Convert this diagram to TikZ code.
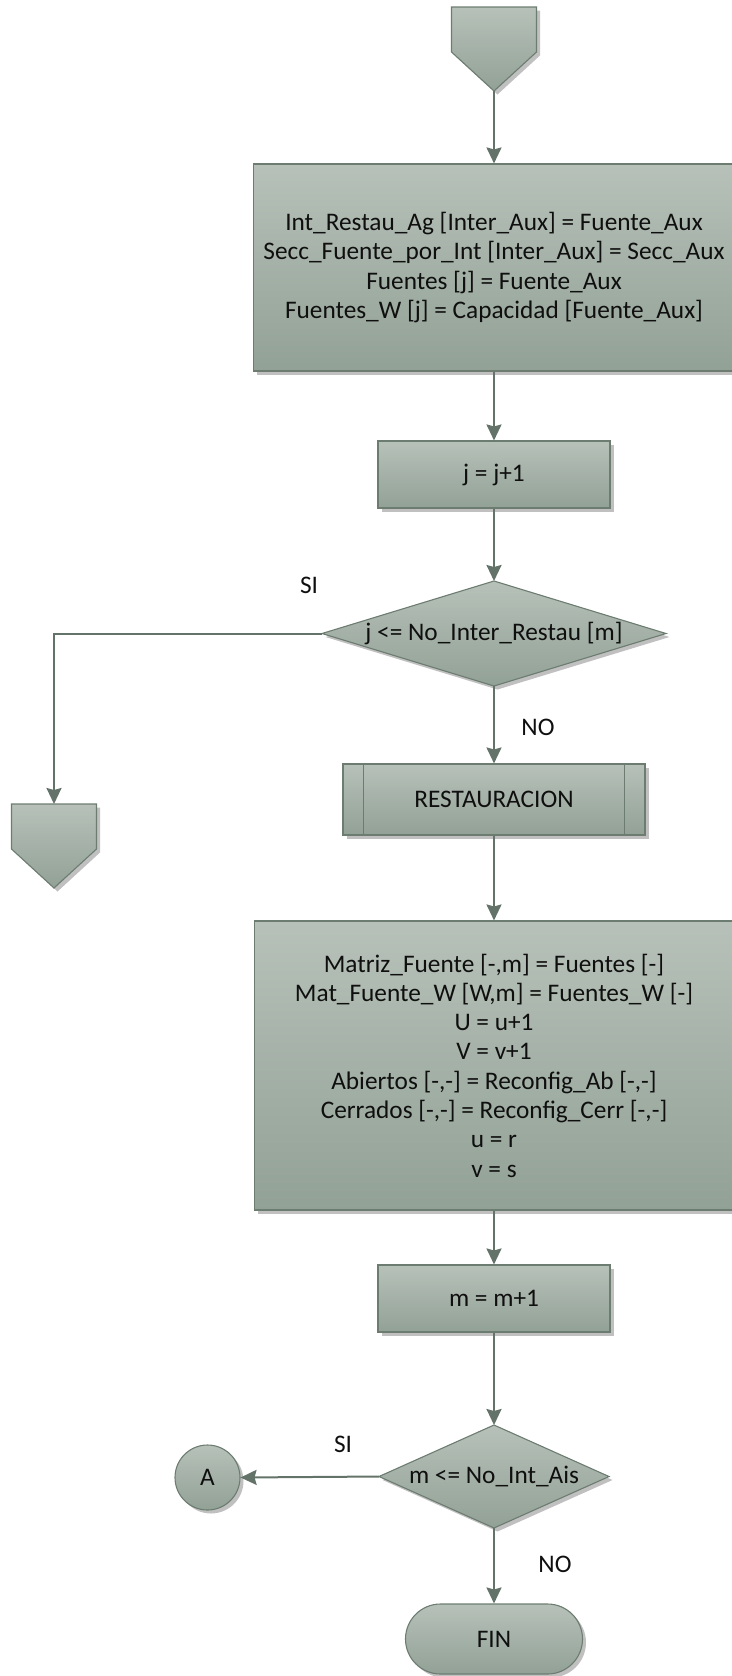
\documentclass[tikz,border=0pt]{standalone}
\usepackage{fontspec}
\setmainfont{Carlito}
\usetikzlibrary{shapes.misc,shadows,arrows.meta}
\pgfdeclarelayer{background}
\pgfsetlayers{background,main}

\definecolor{fillTop}{RGB}{183,193,185}
\definecolor{fillBot}{RGB}{146,161,150}
\definecolor{edgeC}{RGB}{108,124,113}
\definecolor{wireC}{RGB}{100,115,105}
\definecolor{shadeC}{RGB}{192,192,192}
\definecolor{inkC}{RGB}{15,15,15}

\newcommand\flowfont{\fontsize{25.3}{29.3}\selectfont}

% off-page connector outline built from the anchors of an invisible node
% #1 node, #2 #3 shift in picture units
\newcommand\offpagepath[3]{([shift={(#2,#3)}]#1.north west) -- ([shift={(#2,#3)}]#1.north east) -- ([shift={(#2,#3+45)}]#1.north east) -- ([shift={(#2,#3)}]#1.south) -- ([shift={(#2,#3+45)}]#1.north west) -- cycle}
% decision outline through the four side anchors of an invisible node
\newcommand\decisionpath[3]{([shift={(#2,#3)}]#1.north) -- ([shift={(#2,#3)}]#1.east) -- ([shift={(#2,#3)}]#1.south) -- ([shift={(#2,#3)}]#1.west) -- cycle}

\tikzset{
  flow/.style={draw=edgeC, line width=1.1pt, top color=fillTop, bottom color=fillBot,
    text=inkC, font=\flowfont, align=center, inner sep=0pt,
    drop shadow={shadow xshift=3.5pt, shadow yshift=-3.5pt, fill=shadeC, opacity=1}},
  procbox/.style={flow, rectangle},
  ghost/.style={inner sep=0pt, outer sep=0pt, draw=none, text=inkC, font=\flowfont},
  lbl/.style={font=\flowfont, text=inkC, inner sep=0pt},
  conn/.style={draw=wireC, line width=2pt, -{Stealth[length=16pt,width=15pt,inset=2pt]}},
  offshape/.style={draw=edgeC, line width=1.1pt, top color=fillTop, bottom color=fillBot},
}

\begin{document}
\begin{tikzpicture}[x=1pt,y=-1pt]
\useasboundingbox (0,0) rectangle (731,1676);

% nodes
\node[ghost, minimum width=85pt, minimum height=84pt] (top) at (494,49) {};

\node[procbox, minimum width=481pt, minimum height=207pt] (box1) at (494,267.5)
  {Int\_Restau\_Ag [Inter\_Aux] = Fuente\_Aux\\
   Secc\_Fuente\_por\_Int [Inter\_Aux] = Secc\_Aux\\
   Fuentes [j] = Fuente\_Aux\\
   Fuentes\_W [j] = Capacidad [Fuente\_Aux]};

\node[procbox, minimum width=232pt, minimum height=67pt] (box2) at (494,474.5) {j = j+1};

\node[ghost, minimum width=344pt, minimum height=105pt] (d1) at (494,633.5)
  {j <= No\_Inter\_Restau [m]};

\node[ghost, minimum width=85pt, minimum height=84pt] (off2) at (54,846) {};

\node[procbox, minimum width=302pt, minimum height=71pt] (restau) at (494,799.5) {RESTAURACION};

\node[procbox, minimum width=479pt, minimum height=289pt] (box3) at (494,1065.5)
  {Matriz\_Fuente [-,m] = Fuentes [-]\\
   Mat\_Fuente\_W [W,m] = Fuentes\_W [-]\\
   U = u+1\\
   V = v+1\\
   Abiertos [-,-] = Reconfig\_Ab [-,-]\\
   Cerrados [-,-] = Reconfig\_Cerr [-,-]\\
   u = r\\
   v = s};

\node[procbox, minimum width=232pt, minimum height=67pt] (box4) at (494,1298.5) {m = m+1};

\node[ghost, minimum width=230pt, minimum height=103pt] (d2) at (494,1476.5) {m <= No\_Int\_Ais};

\node[flow, circle, minimum size=65pt] (conA) at (207.5,1477.5) {A};

\node[flow, rounded rectangle, minimum width=177pt, minimum height=70pt] (fin) at (494,1639) {FIN};

% branch labels
\node[lbl] (si1) at (309,585) {SI};
\node[lbl] (no1) at (538,727) {NO};
\node[lbl] (si2) at (343,1444) {SI};
\node[lbl] (no2) at (555,1564) {NO};

% off-page connectors and decisions, with their shadows
\begin{pgfonlayer}{background}
  \fill[shadeC] \offpagepath{top}{3.5}{3.5};
  \path[offshape] \offpagepath{top}{0}{0};
  \fill[shadeC] \offpagepath{off2}{3.5}{3.5};
  \path[offshape] \offpagepath{off2}{0}{0};
  \fill[shadeC] \decisionpath{d1}{3.5}{3.5};
  \path[offshape] \decisionpath{d1}{0}{0};
  \fill[shadeC] \decisionpath{d2}{3.5}{3.5};
  \path[offshape] \decisionpath{d2}{0}{0};
\end{pgfonlayer}

% side bars of the predefined process
\draw[draw=edgeC, line width=1.1pt] ([xshift=21pt]restau.north west) -- ([xshift=21pt]restau.south west);
\draw[draw=edgeC, line width=1.1pt] ([xshift=-21pt]restau.north east) -- ([xshift=-21pt]restau.south east);

% connectors
\draw[conn] (top.south) -- (box1.north);
\draw[conn] (box1.south) -- (box2.north);
\draw[conn] (box2.south) -- (d1.north);
\draw[conn] (d1.west) -| (off2.north);
\draw[conn] (d1.south) -- (restau.north);
\draw[conn] (restau.south) -- (box3.north);
\draw[conn] (box3.south) -- (box4.north);
\draw[conn] (box4.south) -- (d2.north);
\draw[conn] (d2.west) -- (conA.east);
\draw[conn] (d2.south) -- (fin.north);
\end{tikzpicture}
\end{document}
